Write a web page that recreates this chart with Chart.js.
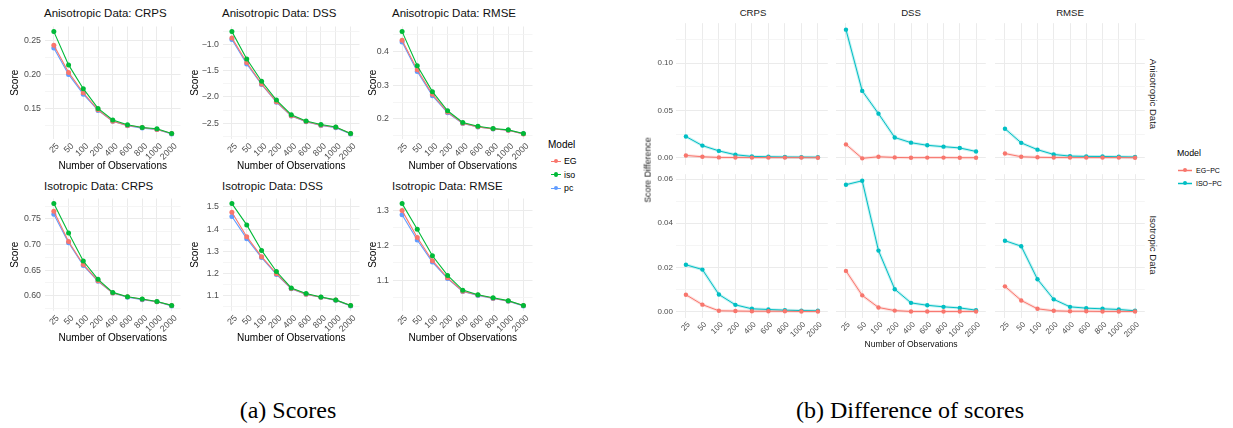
<!DOCTYPE html>
<html><head><meta charset="utf-8">
<script src="https://cdn.jsdelivr.net/npm/chart.js@4"></script>
<style>
html,body{margin:0;padding:0;background:#fff;}
body{width:1233px;height:428px;position:relative;overflow:hidden;font-family:"Liberation Sans",Arial,sans-serif;}
.box{position:absolute;}
.box canvas{display:block;}
.t{position:absolute;white-space:nowrap;color:#000;line-height:1;}
.key{position:absolute;}
</style></head><body>
<script>
// ---------- data ----------
const nObs = ['25','50','100','200','400','600','800','1000','2000'];
const models = ['EG','iso','pc'];
const diffModels = ['EG\u2212PC','ISO\u2212PC'];

// (a) scores, anisotropic data
const anisoCrpsEG  = [0.243,0.203,0.173,0.148,0.131,0.125,0.122,0.119,0.113];
const anisoCrpsIso = [0.263,0.214,0.179,0.150,0.133,0.126,0.122,0.120,0.113];
const anisoCrpsPc  = [0.239,0.200,0.171,0.147,0.131,0.1245,0.121,0.119,0.1125];
const anisoDssEG   = [-0.87,-1.34,-1.75,-2.09,-2.36,-2.47,-2.54,-2.58,-2.70];
const anisoDssIso  = [-0.75,-1.275,-1.70,-2.06,-2.34,-2.46,-2.525,-2.575,-2.70];
const anisoDssPc   = [-0.90,-1.37,-1.76,-2.10,-2.365,-2.475,-2.545,-2.588,-2.706];
const anisoRmseEG  = [0.434,0.346,0.273,0.220,0.187,0.176,0.170,0.166,0.155];
const anisoRmseIso = [0.460,0.358,0.281,0.224,0.189,0.178,0.171,0.167,0.156];
const anisoRmsePc  = [0.429,0.341,0.269,0.218,0.186,0.1756,0.1698,0.1659,0.1551];
// (a) scores, isotropic data
const isoCrpsEG  = [0.765,0.706,0.661,0.629,0.605,0.598,0.593,0.588,0.581];
const isoCrpsIso = [0.780,0.7226,0.6677,0.632,0.6064,0.598,0.5936,0.5885,0.581];
const isoCrpsPc  = [0.759,0.7035,0.659,0.628,0.605,0.597,0.592,0.588,0.580];
const isoDssEG   = [1.476,1.366,1.276,1.199,1.132,1.107,1.093,1.080,1.056];
const isoDssIso  = [1.515,1.419,1.304,1.209,1.135,1.110,1.094,1.081,1.056];
const isoDssPc   = [1.457,1.357,1.272,1.196,1.131,1.106,1.093,1.079,1.054];
const isoRmseEG  = [1.299,1.222,1.156,1.107,1.069,1.058,1.049,1.041,1.028];
const isoRmseIso = [1.319,1.246,1.170,1.114,1.072,1.059,1.050,1.042,1.028];
const isoRmsePc  = [1.287,1.215,1.152,1.105,1.068,1.057,1.048,1.040,1.027];

// (b) differences, anisotropic data
const dAnisoCrpsEGPC  = [0.0024,0.0010,0.0003,0.0002,0.0001,0.0001,0.0001,0.0001,0.0000];
const dAnisoCrpsISOPC = [0.0224,0.0128,0.0072,0.0031,0.0014,0.0010,0.0007,0.0006,0.0005];
const dAnisoDssEGPC   = [0.0141,-0.0007,0.0010,0.0003,0.0000,0.0001,0.0001,0.0000,0.0000];
const dAnisoDssISOPC  = [0.1355,0.0707,0.0466,0.0214,0.0159,0.0131,0.0117,0.0103,0.0066];
const dAnisoRmseEGPC  = [0.0044,0.0010,0.0004,0.0002,0.0001,0.0001,0.0001,0.0001,0.0000];
const dAnisoRmseISOPC = [0.0307,0.0157,0.0085,0.0034,0.0017,0.0014,0.0013,0.0010,0.0007];
// (b) differences, isotropic data
const dIsoCrpsEGPC  = [0.0076,0.0031,0.0003,0.0002,0.0001,0.0001,0.0001,0.0000,0.0000];
const dIsoCrpsISOPC = [0.0212,0.0190,0.0077,0.0030,0.0012,0.0009,0.0006,0.0004,0.0003];
const dIsoDssEGPC   = [0.0184,0.0073,0.0018,0.0004,0.0000,0.0000,0.0000,0.0000,0.0000];
const dIsoDssISOPC  = [0.0575,0.0593,0.0276,0.0101,0.0039,0.0028,0.0021,0.0016,0.0006];
const dIsoRmseEGPC  = [0.0114,0.0050,0.0012,0.0003,0.0001,0.0001,0.0000,0.0000,0.0000];
const dIsoRmseISOPC = [0.0321,0.0296,0.0146,0.0055,0.0021,0.0015,0.0012,0.0009,0.0003];

// tick values and labels
const anisoCrpsTicks = [0.15,0.20,0.25];      const anisoCrpsLabels = ['0.15','0.20','0.25'];
const anisoDssTicks  = [-2.5,-2.0,-1.5,-1.0]; const anisoDssLabels  = ['\u22122.5','\u22122.0','\u22121.5','\u22121.0'];
const anisoRmseTicks = [0.2,0.3,0.4];         const anisoRmseLabels = ['0.2','0.3','0.4'];
const isoCrpsTicks   = [0.60,0.65,0.70,0.75]; const isoCrpsLabels   = ['0.60','0.65','0.70','0.75'];
const isoDssTicks    = [1.1,1.2,1.3,1.4,1.5]; const isoDssLabels    = ['1.1','1.2','1.3','1.4','1.5'];
const isoRmseTicks   = [1.1,1.2,1.3];         const isoRmseLabels   = ['1.1','1.2','1.3'];
const dAnisoTicks    = [0.00,0.05,0.10];      const dAnisoLabels    = ['0.00','0.05','0.10'];
const dIsoTicks      = [0.00,0.02,0.04,0.06]; const dIsoLabels      = ['0.00','0.02','0.04','0.06'];

// ---------- styles ----------
const colEG = '#F8766D', colIso = '#00BA38', colPc = '#619CFF', colISOPC = '#00BFC4';
const FONT = '"Liberation Sans", Arial, sans-serif';

function txt(s, x, y, o) {
  o = o || {};
  const d = document.createElement('div');
  d.className = 't'; d.textContent = s;
  d.style.left = x + 'px'; d.style.top = y + 'px';
  d.style.fontSize = (o.size || 10) + 'px';
  d.style.fontFamily = o.family || FONT;
  if (o.color) d.style.color = o.color;
  const tx = o.align === 'center' ? '-50%' : (o.align === 'right' ? '-100%' : '0');
  d.style.transform = 'translate(' + tx + ',-50%)' + (o.rot ? ' rotate(' + o.rot + 'deg)' : '');
  document.body.appendChild(d);
}

function legendKey(x, y, color, w, r, band) {
  if (band) {
    const b = document.createElement('div');
    b.className = 'key';
    Object.assign(b.style, {left: x + 'px', top: (y - 1.5) + 'px', width: w + 'px', height: '3px', background: color, opacity: 0.25});
    document.body.appendChild(b);
  }
  const l = document.createElement('div');
  l.className = 'key';
  Object.assign(l.style, {left: x + 'px', top: (y - 0.5) + 'px', width: w + 'px', height: '1px', background: color});
  document.body.appendChild(l);
  const c = document.createElement('div');
  c.className = 'key';
  Object.assign(c.style, {left: (x + w / 2 - r) + 'px', top: (y - r) + 'px', width: 2 * r + 'px', height: 2 * r + 'px', borderRadius: '50%', background: color});
  document.body.appendChild(c);
}

function yRange(arrs) {
  const all = [].concat(...arrs);
  const lo = Math.min(...all), hi = Math.max(...all), pad = (hi - lo) * 0.05;
  return [lo - pad, hi + pad];
}

function makeChart(cfg) {
  const wrap = document.createElement('div');
  wrap.className = 'box';
  wrap.style.left = cfg.left + 'px'; wrap.style.top = cfg.top + 'px';
  const cv = document.createElement('canvas');
  cv.width = cfg.width; cv.height = cfg.height;
  cv.style.width = cfg.width + 'px'; cv.style.height = cfg.height + 'px';
  wrap.appendChild(cv); document.body.appendChild(wrap);

  const [ymin, ymax] = cfg.yLim;
  const majors = cfg.yTicks, step = majors[1] - majors[0];
  let grid = [];
  majors.forEach(m => { grid.push({value: m, isMajor: true}); grid.push({value: m - step / 2, isMajor: false}); });
  grid.push({value: majors[majors.length - 1] + step / 2, isMajor: false});
  grid = grid.filter(g => g.value >= ymin && g.value <= ymax).sort((a, b) => a.value - b.value);
  const labelFor = v => { const i = majors.findIndex(m => Math.abs(m - v) < 1e-9); return i >= 0 ? cfg.yLabels[i] : ''; };

  const datasets = [];
  cfg.series.forEach(s => {
    const pts = s.data.map((v, j) => ({x: j, y: v}));
    if (cfg.band) {
      datasets.push({label: s.label + ' band', data: pts, borderColor: s.color + '38', borderWidth: 3,
        pointRadius: 0, tension: 0, order: s.order + 10, clip: false});
    }
    datasets.push({label: s.label, data: pts, borderColor: s.color, backgroundColor: s.color,
      borderWidth: cfg.lineW, pointRadius: cfg.pointR, pointHoverRadius: cfg.pointR, pointBorderWidth: 0,
      pointBackgroundColor: s.color, tension: 0, order: s.order, clip: false});
  });

  new Chart(cv, {
    type: 'line',
    data: {datasets},
    options: {
      responsive: false, animation: false, events: [], devicePixelRatio: 1,
      layout: {padding: 0},
      plugins: {legend: {display: false}, tooltip: {enabled: false}, title: {display: false}},
      scales: {
        x: {
          type: 'linear', min: -0.6, max: nObs.length - 1 + 0.6,
          afterBuildTicks: ax => { ax.ticks = nObs.map((_, i) => ({value: i})); },
          afterFit: ax => { ax.height = cfg.xAxisH; ax.paddingLeft = 0; ax.paddingRight = 0; },
          grid: {color: '#EBEBEB', lineWidth: 1, drawTicks: false},
          border: {display: false},
          ticks: {display: cfg.showX, autoSkip: false, maxRotation: 45, minRotation: 45, padding: cfg.xPad,
            labelOffset: cfg.xLabelOffset, color: '#4D4D4D', font: {family: FONT, size: cfg.tickSize},
            callback: v => nObs[Math.round(v)]},
          title: {display: !!cfg.xTitle, text: cfg.xTitle || '', padding: 0, color: '#000',
            font: {family: FONT, size: cfg.titleSize}}
        },
        y: {
          min: ymin, max: ymax,
          afterBuildTicks: ax => { ax.ticks = grid.map(g => ({value: g.value, isMajor: g.isMajor})); },
          afterFit: ax => { ax.width = cfg.yAxisW; ax.paddingTop = 0; ax.paddingBottom = 0; },
          grid: {drawTicks: false,
            color: c => (c.tick && c.tick.isMajor) ? '#EBEBEB' : '#F3F3F3',
            lineWidth: c => (c.tick && c.tick.isMajor) ? 1 : 0.8},
          border: {display: false},
          ticks: {display: cfg.showY, autoSkip: false, padding: cfg.yPad, color: '#4D4D4D',
            font: {family: FONT, size: cfg.tickSize}, callback: v => labelFor(v)},
          title: {display: !!cfg.yTitle, text: cfg.yTitle || '', padding: 0, color: '#000',
            font: {family: FONT, size: cfg.titleSize}}
        }
      }
    }
  });
}

// ---------- (a) Scores ----------
const aCols = [{cl: 9, pl: 45, pr: 183}, {cl: 189, pl: 223, pr: 362}, {cl: 367, pl: 393, pr: 535}];
const aRows = [{pt: 24, pb: 139, tt: 13.5}, {pt: 196, pb: 311, tt: 187}];
const aPanels = [
  {r: 0, c: 0, title: 'Anisotropic Data: CRPS', d: [anisoCrpsEG, anisoCrpsIso, anisoCrpsPc], t: anisoCrpsTicks, l: anisoCrpsLabels},
  {r: 0, c: 1, title: 'Anisotropic Data: DSS',  d: [anisoDssEG, anisoDssIso, anisoDssPc],    t: anisoDssTicks,  l: anisoDssLabels},
  {r: 0, c: 2, title: 'Anisotropic Data: RMSE', d: [anisoRmseEG, anisoRmseIso, anisoRmsePc], t: anisoRmseTicks, l: anisoRmseLabels},
  {r: 1, c: 0, title: 'Isotropic Data: CRPS',   d: [isoCrpsEG, isoCrpsIso, isoCrpsPc],       t: isoCrpsTicks,   l: isoCrpsLabels},
  {r: 1, c: 1, title: 'Isotropic Data: DSS',    d: [isoDssEG, isoDssIso, isoDssPc],          t: isoDssTicks,    l: isoDssLabels},
  {r: 1, c: 2, title: 'Isotropic Data: RMSE',   d: [isoRmseEG, isoRmseIso, isoRmsePc],       t: isoRmseTicks,   l: isoRmseLabels}
];
const aColors = [colEG, colIso, colPc], aOrder = [1, 0, 2];
aPanels.forEach(p => {
  const col = aCols[p.c], row = aRows[p.r];
  const xAxisH = 33;
  makeChart({
    left: col.cl, top: row.pt, width: col.pr - col.cl, height: row.pb - row.pt + xAxisH,
    yAxisW: col.pl - col.cl, xAxisH: xAxisH, yPad: 4, xPad: 2, xLabelOffset: 4,
    yLim: yRange(p.d), yTicks: p.t, yLabels: p.l,
    series: p.d.map((arr, i) => ({label: models[i], data: arr, color: aColors[i], order: aOrder[i]})),
    showX: true, showY: true, xTitle: 'Number of Observations', yTitle: 'Score',
    tickSize: 8.8, titleSize: 10, lineW: 1.1, pointR: 2.5
  });
  txt(p.title, col.pl - 1, row.tt, {size: 11.5, color: '#111'});
});
// legend (a)
txt('Model', 548, 145, {size: 10});
[161, 174.5, 188].forEach((y, i) => {
  legendKey(551, y, aColors[i], 10, 2.4, false);
  txt(models[i], 564, y, {size: 8.8});
});
txt('(a) Scores', 288, 410, {size: 24, family: '"Liberation Serif", "Times New Roman", serif', align: 'center'});

// ---------- (b) Difference of scores ----------
const bCols = [{pl: 676, pr: 830}, {pl: 834, pr: 988}, {pl: 993, pr: 1147}];
const bRows = [{pt: 21, pb: 167}, {pt: 172, pb: 318}];
const bData = [
  [[dAnisoCrpsEGPC, dAnisoCrpsISOPC], [dAnisoDssEGPC, dAnisoDssISOPC], [dAnisoRmseEGPC, dAnisoRmseISOPC]],
  [[dIsoCrpsEGPC, dIsoCrpsISOPC], [dIsoDssEGPC, dIsoDssISOPC], [dIsoRmseEGPC, dIsoRmseISOPC]]
];
const bTicks = [dAnisoTicks, dIsoTicks], bLabels = [dAnisoLabels, dIsoLabels];
const bColors = [colEG, colISOPC];
bData.forEach((rowData, r) => {
  const lim = yRange(rowData.reduce((a, b) => a.concat(b), []));
  rowData.forEach((pd, c) => {
    const col = bCols[c], row = bRows[r];
    const yAxisW = c === 0 ? 28 : 0;
    const xAxisH = r === 1 ? 24 : 0;
    makeChart({
      left: col.pl - yAxisW, top: row.pt, width: col.pr - col.pl + yAxisW, height: row.pb - row.pt + xAxisH,
      yAxisW: yAxisW, xAxisH: xAxisH, yPad: 3, xPad: 2, xLabelOffset: 3,
      yLim: lim, yTicks: bTicks[r], yLabels: bLabels[r],
      series: pd.map((arr, i) => ({label: diffModels[i], data: arr, color: bColors[i], order: i})),
      showX: r === 1, showY: c === 0, xTitle: '', yTitle: '',
      tickSize: 8, titleSize: 9, lineW: 1, pointR: 2.2, band: true
    });
  });
});
['CRPS', 'DSS', 'RMSE'].forEach((s, c) => txt(s, (bCols[c].pl + bCols[c].pr) / 2, 13, {size: 9.6, align: 'center', color: '#1A1A1A'}));
txt('Anisotropic Data', 1153, (bRows[0].pt + bRows[0].pb) / 2, {size: 9.6, align: 'center', rot: 90, color: '#1A1A1A'});
txt('Isotropic Data', 1153, (bRows[1].pt + bRows[1].pb) / 2, {size: 9.6, align: 'center', rot: 90, color: '#1A1A1A'});
txt('Score Difference', 648, 169.5, {size: 8.8, align: 'center', rot: -90, color: '#111'});
txt('Number of Observations', 911, 344, {size: 8.6, align: 'center', color: '#111'});
txt('Model', 1177, 153, {size: 8.8});
[170, 183].forEach((y, i) => {
  legendKey(1178, y, bColors[i], 14, 2.2, true);
  txt(diffModels[i], 1196, y, {size: 7});
});
txt('(b) Difference of scores', 910, 410, {size: 24, family: '"Liberation Serif", "Times New Roman", serif', align: 'center'});
</script>
</body></html>
